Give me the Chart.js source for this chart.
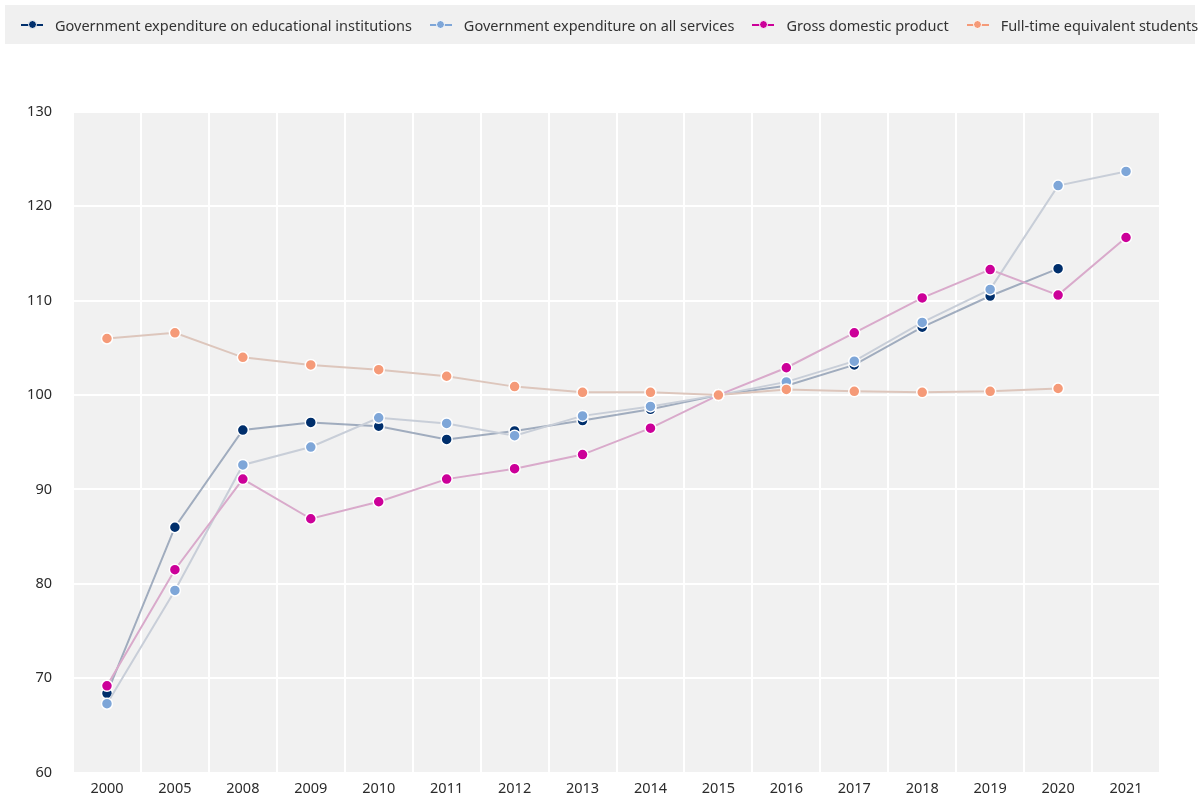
<!DOCTYPE html>
<html>
<head>
<meta charset="utf-8">
<script src="https://cdn.jsdelivr.net/npm/chart.js@4/dist/chart.umd.min.js"></script>
<style>
    html, body { margin: 0; padding: 0; background: #fff; }
    #wrap { position: relative; width: 1200px; height: 803px; }
    #legend {
        position: absolute; left: 5px; top: 5px; width: 1190px; height: 39px;
        background: #f0f0f0; display: flex; align-items: center;
        font-family: "Noto Sans", sans-serif; font-size: 14.5px; color: #333;
        box-sizing: border-box; padding-left: 16px; white-space: nowrap;
    }
    .item { display: flex; align-items: center; margin-right: 18px; }
    .mark { position: relative; width: 22px; height: 9px; margin-right: 12px; }
    .mark .ln { position: absolute; left: 0; right: 0; top: 3.5px; height: 2px; }
    .mark .dot { position: absolute; left: 6.5px; top: 0; width: 9px; height: 9px; border-radius: 50%; box-sizing: border-box; border: 1.5px solid #fff; }
    #chart { position: absolute; left: 0; top: 0; }
</style>
</head>
<body>
<div id="wrap">
    <canvas id="chart" width="1200" height="803"></canvas>
    <div id="legend"></div>
</div>
<script>
const years = ["2000", "2005", "2008", "2009", "2010", "2011", "2012", "2013", "2014", "2015", "2016", "2017", "2018", "2019", "2020", "2021"];

const eduInstitutions = [68.4, 86.0, 96.3, 97.1, 96.7, 95.3, 96.2, 97.3, 98.5, 100, 101.0, 103.2, 107.2, 110.5, 113.4, null];
const allServices = [67.3, 79.3, 92.6, 94.5, 97.6, 97.0, 95.7, 97.8, 98.8, 100, 101.4, 103.6, 107.7, 111.2, 122.2, 123.7];
const gdp = [69.2, 81.5, 91.1, 86.9, 88.7, 91.1, 92.2, 93.7, 96.5, 100, 102.9, 106.6, 110.3, 113.3, 110.6, 116.7];
const students = [106.0, 106.6, 104.0, 103.2, 102.7, 102.0, 100.9, 100.3, 100.3, 100, 100.6, 100.4, 100.3, 100.4, 100.7, null];

const series = [
    { label: 'Government expenditure on educational institutions', data: eduInstitutions, point: '#002f6c', line: 'rgba(125,142,168,0.7)' },
    { label: 'Government expenditure on all services', data: allServices, point: '#7ea6d8', line: '#c8ced8' },
    { label: 'Gross domestic product', data: gdp, point: '#cc0099', line: '#d9aacb' },
    { label: 'Full-time equivalent students', data: students, point: '#f59a78', line: '#ddc6bc' }
];

// html legend: short line with a dot in the middle
const legend = document.getElementById('legend');
series.forEach(function (s) {
    const item = document.createElement('div');
    item.className = 'item';
    item.innerHTML = '<span class="mark"><span class="ln" style="background:' + s.point + '"></span>' +
        '<span class="dot" style="background:' + s.point + '"></span></span><span>' + s.label + '</span>';
    legend.appendChild(item);
});

const plotBackground = {
    id: 'plotBackground',
    beforeDraw: function (chart) {
        const a = chart.chartArea;
        const c = chart.ctx;
        c.save();
        c.fillStyle = '#f1f1f1';
        c.fillRect(a.left, a.top, a.right - a.left, a.bottom - a.top);
        c.restore();
    }
};

const ctx = document.getElementById('chart').getContext('2d');

new Chart(ctx, {
    type: 'line',
    data: {
        labels: years,
        // later series sit on top (lower order is drawn last)
        datasets: series.map(function (s, i) {
            return {
                label: s.label,
                data: s.data,
                order: series.length - i,
                borderColor: s.line,
                borderWidth: 2,
                backgroundColor: s.point,
                pointBackgroundColor: s.point,
                pointBorderColor: '#ffffff',
                pointBorderWidth: 1.5,
                pointRadius: 5.5,
                pointHoverRadius: 5.5,
                tension: 0,
                fill: false
            };
        })
    },
    options: {
        responsive: false,
        animation: false,
        layout: { padding: { top: 112, right: 40, left: 0, bottom: -3 } },
        plugins: {
            legend: { display: false },
            tooltip: { enabled: false }
        },
        scales: {
            x: {
                offset: true,
                grid: { offset: true, color: '#ffffff', lineWidth: 2, drawTicks: false },
                border: { display: false },
                ticks: {
                    padding: 8,
                    color: '#2b2b2b',
                    font: { family: 'Noto Sans', size: 14.5 },
                    maxRotation: 0,
                    autoSkip: false
                }
            },
            y: {
                min: 60,
                max: 130,
                grid: { color: '#ffffff', lineWidth: 2, drawTicks: false },
                border: { display: false },
                ticks: {
                    stepSize: 10,
                    padding: 21,
                    color: '#2b2b2b',
                    font: { family: 'Noto Sans', size: 14.5 }
                },
                afterFit: function (scale) { scale.width = 73; }
            }
        }
    },
    plugins: [plotBackground]
});
</script>
</body>
</html>
